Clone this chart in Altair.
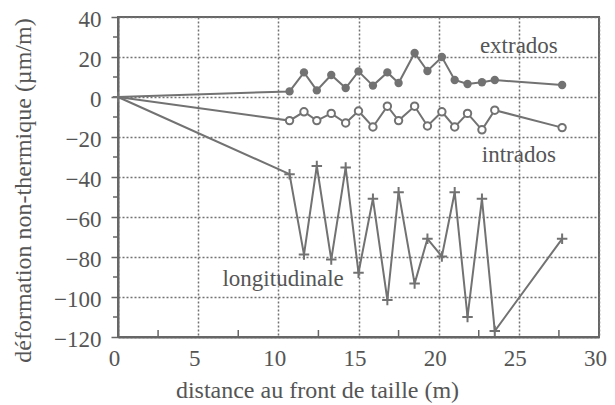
import altair as alt
import pandas as pd

# distances (m) of the measurement points
x_pos = [0, 10.7, 11.6, 12.4, 13.3, 14.2, 15.0, 15.9, 16.8, 17.5, 18.5, 19.3, 20.2, 21.0, 21.8, 22.7, 23.5, 27.7]
extrados = [0, 2.8, 12.3, 3.3, 11.0, 4.5, 12.8, 5.7, 12.3, 7.0, 22.0, 13.0, 20.0, 8.5, 6.5, 7.4, 8.5, 6.0]
intrados = [0, -11.8, -7.4, -11.8, -8.2, -13.0, -7.0, -15.0, -4.6, -11.8, -4.6, -14.5, -7.4, -15.0, -8.2, -16.4, -6.6, -15.3]
longitudinale = [0, -38.6, -78.8, -34.5, -81.3, -35.3, -87.9, -50.9, -101.5, -47.6, -93.3, -70.9, -79.7, -47.6, -110.0, -50.9, -117.0, -70.9]

x_ticks = [0, 5, 10, 15, 20, 25, 30]
y_ticks = [-120, -100, -80, -60, -40, -20, 0, 20, 40]
x_minor = [2.5, 7.5, 12.5, 17.5, 22.5, 27.5]
y_minor = [-110, -90, -70, -50, -30, -10, 10, 30]

label_text = ["extrados", "intrados", "longitudinale"]
label_x = [25.0, 25.0, 10.3]
label_y = [25.3, -28.9, -91.0]

FONT = "Liberation Serif"
GRAY = "#727272"
TEXT = "#555555"

rows = []
for name, vals in [("extrados", extrados), ("intrados", intrados), ("longitudinale", longitudinale)]:
    for xv, yv in zip(x_pos, vals):
        rows.append({"x": xv, "y": yv, "serie": name})
df = pd.DataFrame(rows)

xs = alt.Scale(domain=[0, 30], nice=False, zero=False)
ys = alt.Scale(domain=[-120, 40], nice=False, zero=False)

x_axis = alt.Axis(
    values=x_ticks, title="distance au front de taille (m)", grid=True,
    gridDash=[2, 2], gridColor=GRAY, gridWidth=1.5, tickSize=0, labelPadding=10,
    labelOffset=-4, labelFlush=False, labelFontSize=23, labelFont=FONT, labelColor=TEXT,
    titleFont=FONT, titleFontSize=24, titleColor=TEXT, titleFontWeight="normal",
    titleX=199, titleY=60, titleBaseline="alphabetic", titleAlign="center",
    domainColor="#666666", domainWidth=2,
)
y_axis = alt.Axis(
    values=y_ticks, title="déformation non-thermique (µm/m)", grid=True,
    gridDash=[2, 2], gridColor=GRAY, gridWidth=1.5, tickSize=7, tickWidth=1.5,
    tickColor="#666666", labelPadding=10, labelOffset=2, labelFlush=False,
    labelFontSize=23, labelFont=FONT, labelColor=TEXT, titleFont=FONT, titleFontSize=24,
    titleColor=TEXT, titleFontWeight="normal", titleX=-95, titleY=173,
    titleAngle=270, titleAlign="center", titleBaseline="middle",
    domainColor="#666666", domainWidth=2,
)

X = alt.X("x:Q", scale=xs, axis=x_axis)
Y = alt.Y("y:Q", scale=ys, axis=y_axis)

base = alt.Chart(df)

lines = base.mark_line(color=GRAY, strokeWidth=2).encode(x=X, y=Y, detail="serie:N")

pts_ext = base.transform_filter(
    (alt.datum.serie == "extrados") & (alt.datum.x > 0)
).mark_point(shape="circle", filled=True, color=GRAY, size=70, opacity=1).encode(x=X, y=Y)

pts_int = base.transform_filter(
    (alt.datum.serie == "intrados") & (alt.datum.x > 0)
).mark_point(
    shape="circle", filled=True, fill="white", stroke=GRAY, strokeWidth=2, size=55, opacity=1
).encode(x=X, y=Y)

pts_lon = base.transform_filter(alt.datum.serie == "longitudinale").mark_point(
    shape="M-1,0L1,0M0,-1L0,1", filled=False, stroke=GRAY, strokeWidth=2, size=110, opacity=1
).encode(x=X, y=Y)

xminor_df = pd.DataFrame({"x": x_minor, "y": [-120] * len(x_minor)})
yminor_df = pd.DataFrame({"x": [0] * len(y_minor), "y": y_minor})

xminor = alt.Chart(xminor_df).mark_tick(
    orient="vertical", size=7, thickness=1.5, yOffset=-3.5, color="#666666", opacity=1
).encode(x=X, y=Y)

yminor = alt.Chart(yminor_df).mark_tick(
    orient="horizontal", size=5, thickness=1.5, xOffset=-2.5, color="#666666", opacity=1
).encode(x=X, y=Y)

lab_df = pd.DataFrame({"x": label_x, "y": label_y, "t": label_text})
labels = alt.Chart(lab_df).mark_text(
    font=FONT, fontSize=23, color=TEXT, align="center", baseline="middle"
).encode(x=X, y=Y, text="t:N")

chart = alt.layer(lines, xminor, yminor, pts_lon, pts_ext, pts_int, labels).properties(
    width=481, height=320,
    autosize=alt.AutoSizeParams(type="none"),
    padding={"left": 110, "top": 9, "right": 8, "bottom": 67},
    background="white",
).configure_view(stroke="#666666", strokeWidth=2)

chart.save("out.html", embed_options={"renderer": "svg", "actions": False})
